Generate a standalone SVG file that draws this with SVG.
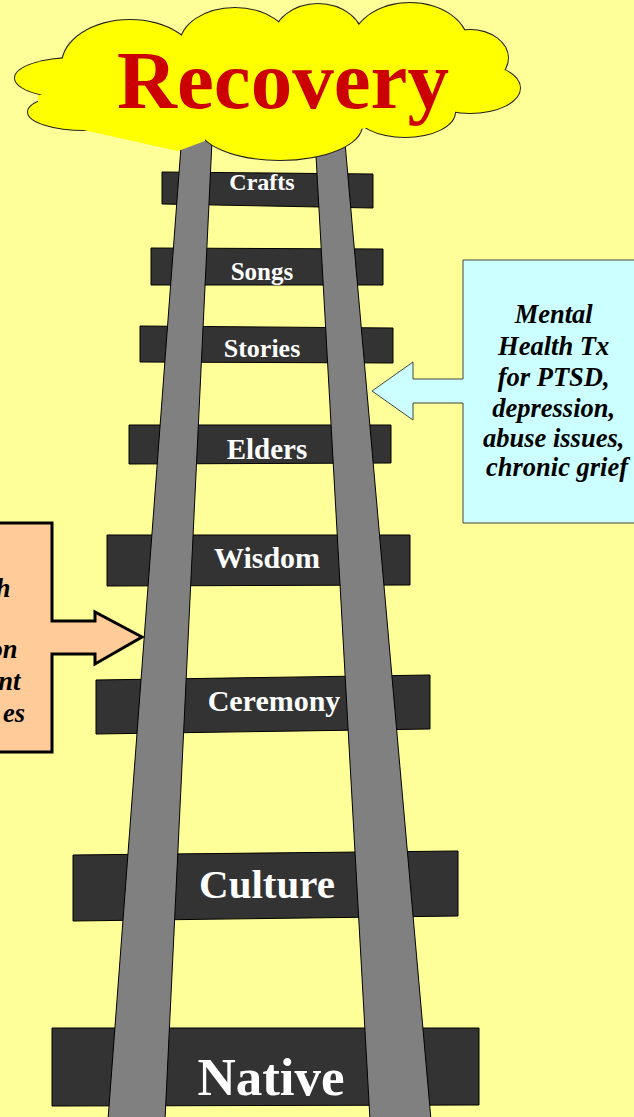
<svg xmlns="http://www.w3.org/2000/svg" width="634" height="1117" viewBox="0 0 634 1117">
<defs>
<style>
.tie{fill:#333333;stroke:#000;stroke-width:1}
.rail{fill:#808080;stroke:#000;stroke-width:1}
.lbl{font-family:"Liberation Serif","Times New Roman",serif;font-weight:bold;fill:#fff;text-anchor:middle}
.cl{stroke:#222;stroke-width:2;fill:none}
.cf{fill:#ffff00;stroke:none}
.note{font-family:"Liberation Serif","DejaVu Serif",serif;font-weight:bold;font-style:italic;font-size:26.5px;fill:#000}
</style>
</defs>
<rect width="634" height="1117" fill="#ffff99"/>
<g id="ties">
<g id="tie-crafts"><polygon class="tie" points="162,172 373,174 373,208 162,204"/></g>
<g id="tie-songs"><polygon class="tie" points="151,248 383,249 383,285 151,285"/></g>
<g id="tie-stories"><polygon class="tie" points="140,326 393,328 393,363 140,362"/></g>
<g id="tie-elders"><polygon class="tie" points="129,425 391,425 391,463 129,464"/></g>
<g id="tie-wisdom"><polygon class="tie" points="107,535 410,535 410,585 107,586"/></g>
<g id="tie-ceremony"><polygon class="tie" points="96,680 430,675 430,729 96,734"/></g>
<g id="tie-culture"><polygon class="tie" points="73,855 458,851 458,916 73,921"/></g>
<g id="tie-native"><polygon class="tie" points="52,1028 479,1028 479,1105 52,1106"/></g>
</g>
<g id="rails">
<polygon class="rail" points="183,120 213,120 165,1120 108,1120"/>
<polygon class="rail" points="314,120 343,120 431,1120 370,1120"/>
</g>
<g id="labels">
<text class="lbl" x="262" y="190" font-size="24">Crafts</text>
<text class="lbl" x="262" y="280" font-size="25">Songs</text>
<text class="lbl" x="262" y="357" font-size="26">Stories</text>
<text class="lbl" x="267" y="459" font-size="29">Elders</text>
<text class="lbl" x="267" y="568" font-size="30">Wisdom</text>
<text class="lbl" x="274" y="711" font-size="30">Ceremony</text>
<text class="lbl" x="267" y="898" font-size="41">Culture</text>
<text class="lbl" x="271" y="1095" font-size="53">Native</text>
</g>
<g id="recovery">
<g class="cl">
<ellipse cx="75" cy="78" rx="60" ry="20"/>
<ellipse cx="85" cy="112" rx="57" ry="18"/>
<ellipse cx="130" cy="65" rx="68" ry="45"/>
<ellipse cx="235" cy="45" rx="55" ry="37"/>
<ellipse cx="318" cy="40" rx="45" ry="36"/>
<ellipse cx="410" cy="45" rx="58" ry="42"/>
<ellipse cx="470" cy="58" rx="38" ry="28"/>
<ellipse cx="470" cy="88" rx="50" ry="25"/>
<ellipse cx="405" cy="112" rx="50" ry="25"/>
<ellipse cx="280" cy="125" rx="82" ry="35"/>
</g>
<g class="cf">
<ellipse cx="75" cy="78" rx="60" ry="20"/>
<ellipse cx="85" cy="112" rx="57" ry="18"/>
<ellipse cx="130" cy="65" rx="68" ry="45"/>
<ellipse cx="235" cy="45" rx="55" ry="37"/>
<ellipse cx="318" cy="40" rx="45" ry="36"/>
<ellipse cx="410" cy="45" rx="58" ry="42"/>
<ellipse cx="470" cy="58" rx="38" ry="28"/>
<ellipse cx="470" cy="88" rx="50" ry="25"/>
<ellipse cx="405" cy="112" rx="50" ry="25"/>
<ellipse cx="280" cy="125" rx="82" ry="35"/>
<ellipse cx="270" cy="85" rx="190" ry="50"/>
<polygon points="38,120 178,151 205,141 205,95 38,95"/>
</g>
<text x="283" y="108" font-family="'Liberation Serif','Times New Roman',serif" font-weight="bold" font-size="83" fill="#cc0000" text-anchor="middle">Recovery</text>
</g>
<g id="callout-right">
<polygon points="463,260 640,260 640,523 463,523 463,403 413,403 413,420 372,391 413,362 413,379 463,379" fill="#ccffff" stroke="#444" stroke-width="1"/>
<text class="note" font-family="'Liberation Serif', serif" text-anchor="middle">
<tspan x="557" y="323">Mental</tspan>
<tspan x="557" y="355">Health Tx</tspan>
<tspan x="557" y="386">for PTSD,</tspan>
<tspan x="557" y="417">depression,</tspan>
<tspan x="557" y="447">abuse issues,</tspan>
<tspan x="557" y="476">chronic grief</tspan>
</text>
</g>
<g id="callout-left">
<polygon points="-5,523 52,523 52,621 95,621 95,612 142,637 95,664 95,654 52,654 52,752 -5,752" fill="#ffcc99" stroke="#000" stroke-width="3"/>
<text class="note" font-family="'Liberation Serif', serif" text-anchor="end">
<tspan x="17" y="597">h</tspan>
<tspan x="24" y="658">on</tspan>
<tspan x="27" y="690">nt</tspan>
<tspan x="25" y="722">es</tspan>
</text>
</g>
</svg>
